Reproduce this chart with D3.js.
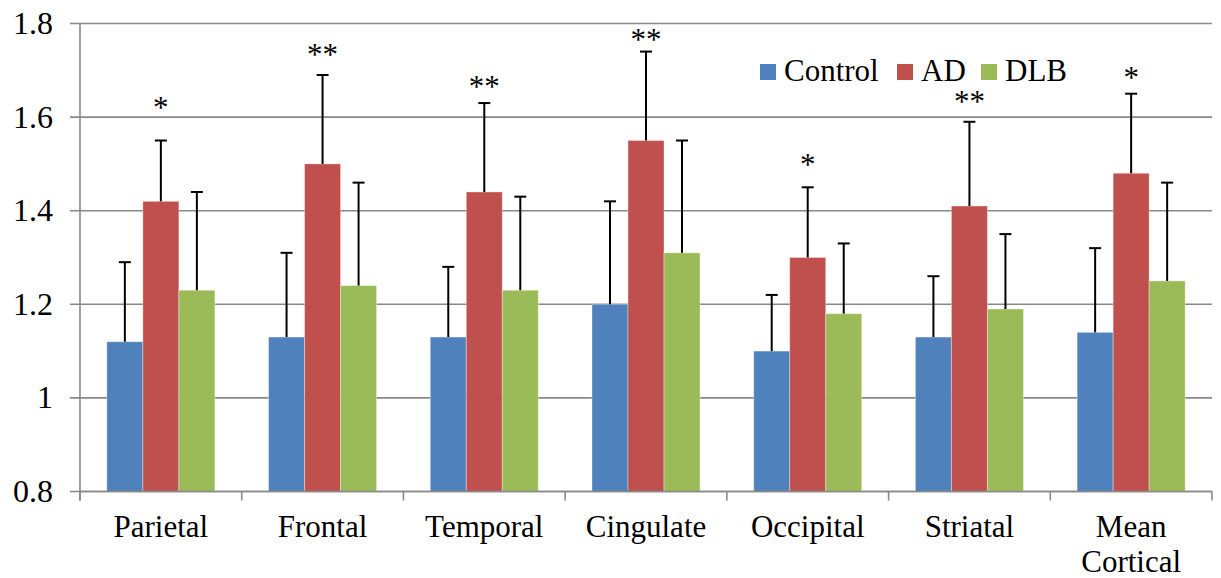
<!DOCTYPE html>
<html>
<head>
<meta charset="utf-8">
<script src="https://cdn.jsdelivr.net/npm/d3@7"></script>
<style>
  html, body { margin: 0; padding: 0; background: #fff; }
  svg text { font-family: "Liberation Serif", "DejaVu Serif", serif; fill: #000; }
</style>
</head>
<body>
<svg id="chart" width="1221" height="578" font-family="Liberation Serif, serif"></svg>
<script>
// Regional values per group (mean) with the upper end of each error bar
const categories = ["Parietal", "Frontal", "Temporal", "Cingulate", "Occipital", "Striatal", "Mean Cortical"];
const seriesNames = ["Control", "AD", "DLB"];
const controlValues = [1.12, 1.13, 1.13, 1.20, 1.10, 1.13, 1.14];
const adValues      = [1.42, 1.50, 1.44, 1.55, 1.30, 1.41, 1.48];
const dlbValues     = [1.23, 1.24, 1.23, 1.31, 1.18, 1.19, 1.25];
const controlErrTop = [1.29, 1.31, 1.28, 1.42, 1.22, 1.26, 1.32];
const adErrTop      = [1.55, 1.69, 1.63, 1.74, 1.45, 1.59, 1.65];
const dlbErrTop     = [1.44, 1.46, 1.43, 1.55, 1.33, 1.35, 1.46];
// Significance markers above the AD bars and the level they sit at
const sigMarks  = ["*", "**", "**", "**", "*", "**", "*"];
const sigLevels = [1.630, 1.743, 1.676, 1.775, 1.508, 1.644, 1.695];
const yTicks = [0.8, 1, 1.2, 1.4, 1.6, 1.8];
const seriesColors = ["#4F81BD", "#C0504D", "#9BBB59"];

const seriesValues = [controlValues, adValues, dlbValues];
const seriesErr = [controlErrTop, adErrTop, dlbErrTop];

const svg = d3.select("#chart");
const plotLeft = 80, plotRight = 1212, plotTop = 23.5, plotBottom = 491.5;

const y = d3.scaleLinear().domain([0.8, 1.8]).range([plotBottom, plotTop]);
const x0 = d3.scaleBand().domain(categories).range([plotLeft, plotRight])
  .paddingInner(0.332).paddingOuter(0.166);
const x1 = d3.scaleBand().domain(seriesNames).range([0, x0.bandwidth()]).padding(0);

const gridColor = "#898989";
const serif = "'Liberation Serif', serif";

// Horizontal gridlines with outward ticks on the value axis
svg.append("g").selectAll("line").data(yTicks).join("line")
  .attr("x1", plotLeft - 10).attr("x2", plotRight)
  .attr("y1", d => y(d)).attr("y2", d => y(d))
  .attr("stroke", gridColor).attr("stroke-width", 1.6);

// Value axis labels
svg.append("g").selectAll("text").data(yTicks).join("text")
  .attr("x", 53).attr("y", d => y(d)).attr("dy", 10.5)
  .attr("text-anchor", "end")
  .style("font-family", serif).style("font-size", "32px")
  .text(d => d3.format("")(d));

// Bars
const rows = [];
categories.forEach((c, i) => {
  seriesNames.forEach((s, j) => {
    rows.push({ cat: c, series: s, j, value: seriesValues[j][i], err: seriesErr[j][i] });
  });
});

const barG = svg.append("g");
barG.selectAll("rect").data(rows).join("rect")
  .attr("x", d => x0(d.cat) + x1(d.series))
  .attr("y", d => y(d.value))
  .attr("width", x1.bandwidth())
  .attr("height", d => y(0.8) - y(d.value))
  .attr("fill", d => seriesColors[d.j])
  .attr("stroke", "rgba(255,255,255,0.35)").attr("stroke-width", 1);

// Upper error bars
const errG = svg.append("g").attr("stroke", "#000").attr("stroke-width", 2);
rows.forEach(d => {
  const cx = x0(d.cat) + x1(d.series) + x1.bandwidth() / 2;
  errG.append("line").attr("x1", cx).attr("x2", cx)
    .attr("y1", y(d.value)).attr("y2", y(d.err));
  errG.append("line").attr("x1", cx - 6).attr("x2", cx + 6)
    .attr("y1", y(d.err)).attr("y2", y(d.err));
});

// Category axis: baseline, vertical axis line and boundary ticks
const axisG = svg.append("g").attr("stroke", gridColor).attr("stroke-width", 1.6);
axisG.append("line").attr("x1", plotLeft).attr("x2", plotRight).attr("y1", plotBottom).attr("y2", plotBottom);
axisG.append("line").attr("x1", plotLeft).attr("x2", plotLeft).attr("y1", plotTop).attr("y2", plotBottom + 9);
d3.range(categories.length + 1).forEach(i => {
  const bx = plotLeft + i * x0.step();
  axisG.append("line").attr("x1", bx).attr("x2", bx).attr("y1", plotBottom).attr("y2", plotBottom + 9);
});

// Category labels (wrapped on spaces, one text per line)
const catG = svg.append("g");
categories.forEach(c => {
  const cx = x0(c) + x0.bandwidth() / 2;
  c.split(" ").forEach((w, k) => {
    catG.append("text").attr("text-anchor", "middle")
      .attr("x", cx).attr("y", 537 + k * 35)
      .style("font-family", serif).style("font-size", "31px")
      .text(w);
  });
});

// Significance markers centred over the AD bar
svg.append("g").selectAll("text").data(categories).join("text")
  .attr("x", c => x0(c) + x1("AD") + x1.bandwidth() / 2)
  .attr("y", (c, i) => y(sigLevels[i]))
  .attr("dy", 15)
  .attr("text-anchor", "middle")
  .style("font-family", serif).style("font-size", "31px")
  .text((c, i) => sigMarks[i]);

// Legend
const legendX = [760, 897, 981];
const legend = svg.append("g");
seriesNames.forEach((s, j) => {
  legend.append("rect").attr("x", legendX[j]).attr("y", 64).attr("width", 16).attr("height", 16)
    .attr("fill", seriesColors[j]);
  legend.append("text").attr("x", legendX[j] + 24).attr("y", 81)
    .style("font-family", serif).style("font-size", "31px").text(s);
});
</script>
</body>
</html>
